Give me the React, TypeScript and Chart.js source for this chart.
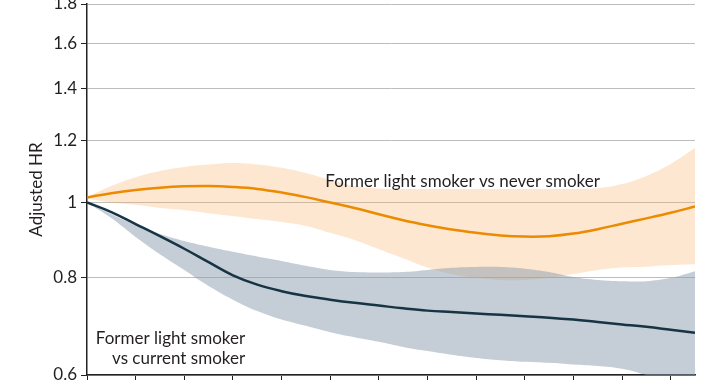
import { useEffect, useRef } from 'react';
import { Chart, registerables } from 'chart.js';

Chart.register(...registerables);

const xValues = [0, 1, 2, 3, 4, 5, 6, 7, 8, 9, 10, 11, 12, 13, 14, 15, 16, 17, 18, 19, 20, 21, 22, 23, 24, 25];

const neverHR = [1.015, 1.028, 1.038, 1.045, 1.049, 1.05, 1.047, 1.041, 1.03, 1.016, 1.0, 0.984, 0.966, 0.949, 0.935, 0.923, 0.914, 0.907, 0.904, 0.905, 0.912, 0.924, 0.939, 0.954, 0.97, 0.988];
const neverUpper = [1.016, 1.05, 1.078, 1.098, 1.111, 1.119, 1.124, 1.119, 1.108, 1.091, 1.069, 1.05, 1.042, 1.041, 1.041, 1.041, 1.041, 1.041, 1.041, 1.041, 1.041, 1.043, 1.056, 1.082, 1.121, 1.175];
const neverLower = [1.012, 1.0, 0.993, 0.984, 0.978, 0.969, 0.961, 0.952, 0.944, 0.933, 0.914, 0.895, 0.871, 0.848, 0.825, 0.809, 0.8, 0.795, 0.795, 0.8, 0.809, 0.819, 0.825, 0.827, 0.831, 0.833];

const currentHR = [1.0, 0.972, 0.938, 0.905, 0.872, 0.838, 0.806, 0.784, 0.769, 0.758, 0.75, 0.743, 0.737, 0.731, 0.726, 0.723, 0.72, 0.717, 0.714, 0.711, 0.707, 0.702, 0.697, 0.692, 0.686, 0.68];
const currentUpper = [1.0, 0.966, 0.936, 0.911, 0.892, 0.877, 0.864, 0.852, 0.841, 0.829, 0.819, 0.814, 0.813, 0.814, 0.819, 0.824, 0.826, 0.826, 0.822, 0.814, 0.802, 0.795, 0.792, 0.792, 0.8, 0.816];
const currentLower = [1.0, 0.955, 0.903, 0.858, 0.819, 0.781, 0.75, 0.725, 0.707, 0.694, 0.681, 0.671, 0.662, 0.652, 0.644, 0.637, 0.631, 0.627, 0.624, 0.622, 0.619, 0.616, 0.611, 0.6, 0.589, 0.577];

const yTicks = [0.6, 0.8, 1, 1.2, 1.4, 1.6, 1.8];
const yTitle = 'Adjusted HR';

const labelNever = ['Former light smoker vs never smoker'];
const labelCurrent = ['Former light smoker', 'vs current smoker'];

const FONT = 'Lato';
const TEXT = '#231f20';

// annotation anchors in data units
const annotations = [
  { lines: labelNever, x: 9.8, y: 1.063, align: 'left' as CanvasTextAlign, lineStep: 0 },
  { lines: labelCurrent, x: 6.5, y: 0.669, align: 'right' as CanvasTextAlign, lineStep: 20 },
];

const pts = (arr: number[]) => arr.map((v, i) => ({ x: xValues[i], y: v }));

export default function App() {
  const ref = useRef<HTMLCanvasElement | null>(null);

  useEffect(() => {
    if (!ref.current) return;

    const labelPlugin = {
      id: 'textLabels',
      afterDatasetsDraw(chart: any) {
        const ctx = chart.ctx;
        const xs = chart.scales.x;
        const ys = chart.scales.y;
        ctx.save();
        ctx.font = `17px ${FONT}`;
        ctx.fillStyle = TEXT;
        ctx.textBaseline = 'middle';
        annotations.forEach((a) => {
          ctx.textAlign = a.align;
          const px = xs.getPixelForValue(a.x);
          const py = ys.getPixelForValue(a.y);
          a.lines.forEach((t, i) => ctx.fillText(t, px, py + i * a.lineStep));
        });
        ctx.restore();
      },
    };

    const band = (arr: number[], fill: any, bg?: string) => ({
      data: pts(arr),
      borderWidth: 0,
      borderColor: 'rgba(0,0,0,0)',
      backgroundColor: bg || 'rgba(0,0,0,0)',
      pointRadius: 0,
      fill,
      tension: 0.4,
    });

    const chart = new Chart(ref.current, {
      type: 'line',
      data: {
        datasets: [
          {
            data: pts(neverHR),
            borderColor: '#ec8a00',
            borderWidth: 2.5,
            pointRadius: 0,
            fill: false,
            tension: 0.4,
          },
          {
            data: pts(currentHR),
            borderColor: '#173445',
            borderWidth: 2.5,
            pointRadius: 0,
            fill: false,
            tension: 0.4,
          },
          band(currentUpper, '+1', 'rgba(139,155,173,0.5)'),
          band(currentLower, false),
          band(neverUpper, '+1', 'rgba(250,175,100,0.3)'),
          band(neverLower, false),
        ],
      },
      options: {
        animation: false,
        responsive: false,
        events: [],
        layout: { padding: { top: 44, right: 25, left: 0, bottom: 0 } },
        plugins: {
          legend: { display: false },
          tooltip: { enabled: false },
        },
        scales: {
          x: {
            type: 'linear',
            min: 0,
            max: 25,
            afterFit: (s: any) => {
              s.height = 45;
            },
            ticks: {
              stepSize: 1,
              color: TEXT,
              font: { family: FONT, size: 17 },
            },
            grid: {
              drawOnChartArea: false,
              drawTicks: true,
              tickLength: 9,
              tickColor: '#222',
              tickWidth: 1,
            },
            border: { color: '#222', width: 1.5 },
          },
          y: {
            type: 'logarithmic',
            min: 0.6,
            max: 1.8,
            afterFit: (s: any) => {
              s.width = 87;
            },
            afterBuildTicks: (s: any) => {
              s.ticks = yTicks.map((v) => ({ value: v }));
            },
            ticks: {
              color: TEXT,
              padding: 4,
              font: { family: FONT, size: 17 },
              callback: (v: any) => String(Number(v)),
            },
            grid: {
              color: '#bdbdbd',
              lineWidth: 1,
              tickLength: 6,
              tickColor: '#222',
            },
            border: { color: '#222', width: 1.5 },
            title: {
              display: true,
              text: yTitle,
              color: TEXT,
              font: { family: FONT, size: 17 },
              padding: { top: 26, bottom: 0 },
            },
          },
        },
      },
      plugins: [labelPlugin],
    });

    return () => chart.destroy();
  }, []);

  return (
    <div style={{ position: 'absolute', left: 0, top: -40, width: 720, height: 460 }}>
      <canvas ref={ref} width={720} height={460} />
    </div>
  );
}
